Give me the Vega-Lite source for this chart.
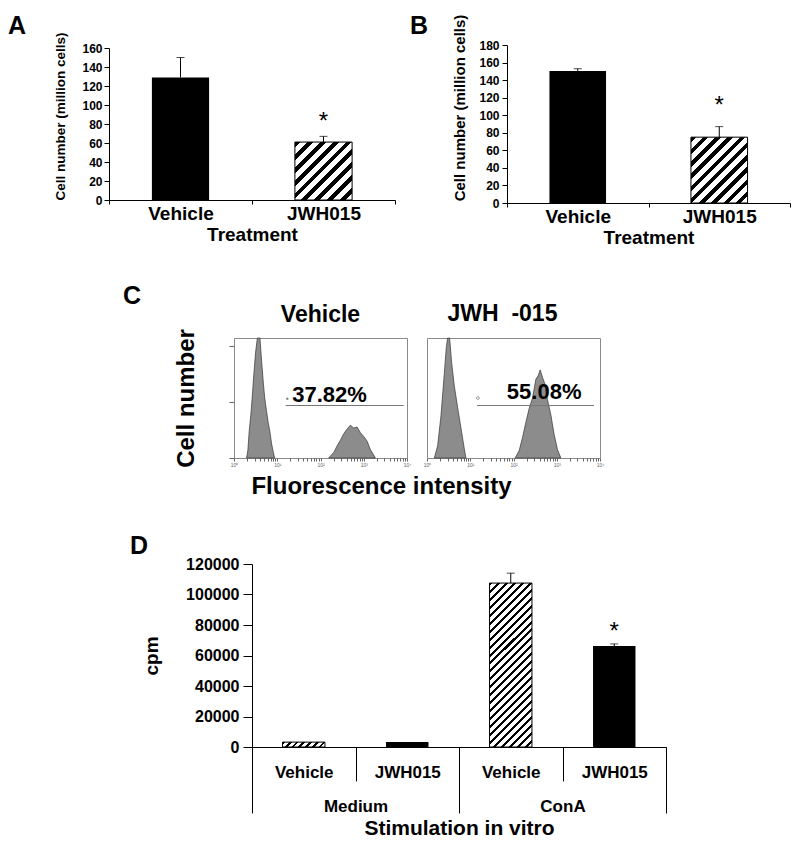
{
  "$schema": "https://vega.github.io/schema/vega-lite/v6.json",
  "padding": {"left": 8, "top": 13, "right": 0, "bottom": 0},
  "background": "white",
  "config": {
    "view": {"stroke": null},
    "font": "Liberation Sans",
    "axis": {"labelFont": "Liberation Sans", "titleFont": "Liberation Sans", "labelFontWeight": "bold", "titleFontWeight": "bold", "labelColor": "#000", "titleColor": "#000", "domainColor": "#000", "tickColor": "#000", "grid": false},
    "title": {"font": "Liberation Sans", "fontWeight": "bold", "color": "#000"},
    "text": {"font": "Liberation Sans"}
  },
  "spacing": 37,
  "vconcat": [
    {
      "hconcat": [
        {
          "width": 286, "height": 152,
          "title": {"text": "A", "anchor": "start", "frame": "group", "dx": -101, "offset": -7, "fontSize": 25},
          "data": {"values": [{"treatment": "Vehicle", "cells": 129, "upper": 150}, {"treatment": "JWH015", "cells": 61, "upper": 67}]},
          "encoding": {
            "x": {"field": "treatment", "type": "nominal", "sort": ["Vehicle", "JWH015"], "scale": {"paddingInner": 0, "paddingOuter": 0},
              "axis": {"title": "Treatment", "labelAngle": 0, "labelFontSize": 19, "titleFontSize": 19, "tickBand": "extent", "tickSize": 4, "labelPadding": 0, "titlePadding": 2}},
            "y": {"field": "cells", "type": "quantitative", "scale": {"domain": [0, 160], "nice": false},
              "axis": {"title": "Cell number (million cells)", "values": [0, 20, 40, 60, 80, 100, 120, 140, 160], "labelFontSize": 12, "titleFontSize": 13.5, "tickSize": 5, "labelPadding": 2, "titlePadding": 14, "titleY": 68}}
          },
          "layer": [
            {"transform": [{"filter": {"field": "treatment", "equal": "Vehicle"}}], "mark": {"type": "bar", "width": {"band": 0.4}, "color": "#000"}},
            {"transform": [{"filter": {"field": "treatment", "equal": "JWH015"}}], "mark": {"type": "bar", "width": {"band": 0.4}, "stroke": "#000", "strokeWidth": 1,
              "fill": {"gradient": "linear", "x1": 0, "y1": 0, "x2": 0.9934, "y2": 1.0065, "stops": [
                {"offset": 0, "color": "#000"}, {"offset": 0.05, "color": "#000"}, {"offset": 0.05, "color": "#fff"}, {"offset": 0.1111, "color": "#fff"},
                {"offset": 0.1111, "color": "#000"}, {"offset": 0.1611, "color": "#000"}, {"offset": 0.1611, "color": "#fff"}, {"offset": 0.2222, "color": "#fff"},
                {"offset": 0.2222, "color": "#000"}, {"offset": 0.2722, "color": "#000"}, {"offset": 0.2722, "color": "#fff"}, {"offset": 0.3333, "color": "#fff"},
                {"offset": 0.3333, "color": "#000"}, {"offset": 0.3833, "color": "#000"}, {"offset": 0.3833, "color": "#fff"}, {"offset": 0.4444, "color": "#fff"},
                {"offset": 0.4444, "color": "#000"}, {"offset": 0.4944, "color": "#000"}, {"offset": 0.4944, "color": "#fff"}, {"offset": 0.5556, "color": "#fff"},
                {"offset": 0.5556, "color": "#000"}, {"offset": 0.6056, "color": "#000"}, {"offset": 0.6056, "color": "#fff"}, {"offset": 0.6667, "color": "#fff"},
                {"offset": 0.6667, "color": "#000"}, {"offset": 0.7167, "color": "#000"}, {"offset": 0.7167, "color": "#fff"}, {"offset": 0.7778, "color": "#fff"},
                {"offset": 0.7778, "color": "#000"}, {"offset": 0.8278, "color": "#000"}, {"offset": 0.8278, "color": "#fff"}, {"offset": 0.8889, "color": "#fff"},
                {"offset": 0.8889, "color": "#000"}, {"offset": 0.9389, "color": "#000"}, {"offset": 0.9389, "color": "#fff"}, {"offset": 1, "color": "#fff"}]}}},
            {"mark": {"type": "rule", "color": "#000", "strokeWidth": 1}, "encoding": {"y2": {"field": "upper"}}},
            {"mark": {"type": "tick", "orient": "horizontal", "size": 8, "thickness": 1, "color": "#000"}, "encoding": {"y": {"field": "upper", "type": "quantitative"}}},
            {"transform": [{"filter": {"field": "treatment", "equal": "JWH015"}}], "mark": {"type": "text", "text": "*", "fontSize": 24, "baseline": "alphabetic", "dy": -7}, "encoding": {"y": {"field": "upper", "type": "quantitative"}}}
          ]
        },
        {
          "width": 283, "height": 158,
          "title": {"text": "B", "anchor": "start", "frame": "group", "dx": -97, "offset": -25, "fontSize": 25},
          "data": {"values": [{"treatment": "Vehicle", "cells": 150.5, "upper": 153}, {"treatment": "JWH015", "cells": 75, "upper": 87}]},
          "encoding": {
            "x": {"field": "treatment", "type": "nominal", "sort": ["Vehicle", "JWH015"], "scale": {"paddingInner": 0, "paddingOuter": 0},
              "axis": {"title": "Treatment", "labelAngle": 0, "labelFontSize": 19, "titleFontSize": 19, "tickBand": "extent", "tickSize": 4, "labelPadding": 0, "titlePadding": 2}},
            "y": {"field": "cells", "type": "quantitative", "scale": {"domain": [0, 180], "nice": false},
              "axis": {"title": "Cell number (million cells)", "values": [0, 20, 40, 60, 80, 100, 120, 140, 160, 180], "labelFontSize": 12, "titleFontSize": 15, "tickSize": 5, "labelPadding": 3, "titlePadding": 11, "titleY": 62.5}}
          },
          "layer": [
            {"transform": [{"filter": {"field": "treatment", "equal": "Vehicle"}}], "mark": {"type": "bar", "width": {"band": 0.4}, "color": "#000"}},
            {"transform": [{"filter": {"field": "treatment", "equal": "JWH015"}}], "mark": {"type": "bar", "width": {"band": 0.4}, "stroke": "#000", "strokeWidth": 1,
              "fill": {"gradient": "linear", "x1": 0, "y1": 0, "x2": 0.9194, "y2": 1.0693, "stops": [
                {"offset": 0, "color": "#000"}, {"offset": 0.045, "color": "#000"}, {"offset": 0.045, "color": "#fff"}, {"offset": 0.1, "color": "#fff"},
                {"offset": 0.1, "color": "#000"}, {"offset": 0.145, "color": "#000"}, {"offset": 0.145, "color": "#fff"}, {"offset": 0.2, "color": "#fff"},
                {"offset": 0.2, "color": "#000"}, {"offset": 0.245, "color": "#000"}, {"offset": 0.245, "color": "#fff"}, {"offset": 0.3, "color": "#fff"},
                {"offset": 0.3, "color": "#000"}, {"offset": 0.345, "color": "#000"}, {"offset": 0.345, "color": "#fff"}, {"offset": 0.4, "color": "#fff"},
                {"offset": 0.4, "color": "#000"}, {"offset": 0.445, "color": "#000"}, {"offset": 0.445, "color": "#fff"}, {"offset": 0.5, "color": "#fff"},
                {"offset": 0.5, "color": "#000"}, {"offset": 0.545, "color": "#000"}, {"offset": 0.545, "color": "#fff"}, {"offset": 0.6, "color": "#fff"},
                {"offset": 0.6, "color": "#000"}, {"offset": 0.645, "color": "#000"}, {"offset": 0.645, "color": "#fff"}, {"offset": 0.7, "color": "#fff"},
                {"offset": 0.7, "color": "#000"}, {"offset": 0.745, "color": "#000"}, {"offset": 0.745, "color": "#fff"}, {"offset": 0.8, "color": "#fff"},
                {"offset": 0.8, "color": "#000"}, {"offset": 0.845, "color": "#000"}, {"offset": 0.845, "color": "#fff"}, {"offset": 0.9, "color": "#fff"},
                {"offset": 0.9, "color": "#000"}, {"offset": 0.945, "color": "#000"}, {"offset": 0.945, "color": "#fff"}, {"offset": 1, "color": "#fff"}]}}},
            {"mark": {"type": "rule", "color": "#000", "strokeWidth": 1}, "encoding": {"y2": {"field": "upper"}}},
            {"mark": {"type": "tick", "orient": "horizontal", "size": 8, "thickness": 1, "color": "#000"}, "encoding": {"y": {"field": "upper", "type": "quantitative"}}},
            {"transform": [{"filter": {"field": "treatment", "equal": "JWH015"}}], "mark": {"type": "text", "text": "*", "fontSize": 24, "baseline": "alphabetic", "dy": -14}, "encoding": {"y": {"field": "upper", "type": "quantitative"}}}
          ]
        }
      ],
      "spacing": 112, "bounds": "flush", "center": true
    },
    {
      "spacing": 34,
      "vconcat": [
        {
          "title": {"text": "C", "anchor": "start", "frame": "bounds", "dx": 14, "offset": -7, "fontSize": 25},
          "spacing": 20, "bounds": "flush",
          "hconcat": [
            {"width": 105, "height": 10, "data": {"values": [{}]}, "mark": "text", "encoding": {"text": {"value": ""}}},
            {
              "width": 173, "height": 120,
              "view": {"stroke": "#8a8a8a", "strokeWidth": 1},
              "title": {"text": "Vehicle", "fontSize": 23, "offset": 1.5},
              "data": {"values": [
                {"peak": "a", "fl": 1.95, "count": 0}, {"peak": "a", "fl": 2.09, "count": 8}, {"peak": "a", "fl": 2.24, "count": 28}, {"peak": "a", "fl": 2.45, "count": 46},
                {"peak": "a", "fl": 2.63, "count": 64}, {"peak": "a", "fl": 2.88, "count": 90}, {"peak": "a", "fl": 3.16, "count": 113}, {"peak": "a", "fl": 3.47, "count": 128},
                {"peak": "a", "fl": 3.98, "count": 128}, {"peak": "a", "fl": 4.37, "count": 102}, {"peak": "a", "fl": 4.79, "count": 79}, {"peak": "a", "fl": 5.13, "count": 64},
                {"peak": "a", "fl": 5.62, "count": 51}, {"peak": "a", "fl": 6.17, "count": 38}, {"peak": "a", "fl": 6.76, "count": 28}, {"peak": "a", "fl": 7.41, "count": 15},
                {"peak": "a", "fl": 8.13, "count": 6}, {"peak": "a", "fl": 8.71, "count": 0},
                {"peak": "b", "fl": 154.9, "count": 0}, {"peak": "b", "fl": 202.8, "count": 6}, {"peak": "b", "fl": 242.7, "count": 13}, {"peak": "b", "fl": 289.1, "count": 19},
                {"peak": "b", "fl": 345.1, "count": 26}, {"peak": "b", "fl": 413, "count": 31}, {"peak": "b", "fl": 492, "count": 35}, {"peak": "b", "fl": 586.1, "count": 32},
                {"peak": "b", "fl": 703.1, "count": 33}, {"peak": "b", "fl": 837.5, "count": 27}, {"peak": "b", "fl": 997.7, "count": 23}, {"peak": "b", "fl": 1194, "count": 18},
                {"peak": "b", "fl": 1422, "count": 9}, {"peak": "b", "fl": 1858, "count": 0}
              ]},
              "layer": [
                {"mark": {"type": "area", "fill": "#8c8c8c", "stroke": "#333", "strokeWidth": 0.7, "interpolate": "linear"},
                  "encoding": {
                    "x": {"field": "fl", "type": "quantitative", "scale": {"type": "log", "domain": [1, 10000]},
                      "axis": {"values": [1, 2, 3, 4, 5, 6, 7, 8, 9, 10, 20, 30, 40, 50, 60, 70, 80, 90, 100, 200, 300, 400, 500, 600, 700, 800, 900, 1000, 2000, 3000, 4000, 5000, 6000, 7000, 8000, 9000, 10000],
                        "tickSize": 3, "tickColor": "#666", "domain": false, "labelFontSize": 5, "labelFontWeight": "normal", "labelColor": "#666", "labelPadding": 1, "labelOverlap": false, "labelFlush": false,
                        "labelExpr": "datum.value == 1 ? '10⁰' : datum.value == 10 ? '10¹' : datum.value == 100 ? '10²' : datum.value == 1000 ? '10³' : datum.value == 10000 ? '10⁴' : ''",
                        "title": "Fluorescence intensity", "titleFontSize": 24, "titleX": 147, "titlePadding": 7}},
                    "y": {"field": "count", "type": "quantitative", "stack": null, "scale": {"domain": [0, 128], "nice": false},
                      "axis": {"values": [0, 30, 60, 90, 120], "labels": false, "domain": false, "tickSize": 5, "tickColor": "#666", "title": "Cell number", "titleFontSize": 24, "titlePadding": 30}},
                    "detail": {"field": "peak", "type": "nominal"}
                  }},
                {"data": {"values": [{}]}, "mark": {"type": "rule", "color": "#777", "strokeWidth": 1},
                  "encoding": {"x": {"datum": 15.6, "type": "quantitative"}, "x2": {"datum": 8360}, "y": {"datum": 56, "type": "quantitative"}}},
                {"data": {"values": [{}]}, "mark": {"type": "text", "text": "37.82%", "fontSize": 22, "fontWeight": "bold", "align": "left", "baseline": "alphabetic"},
                  "encoding": {"x": {"datum": 22.2, "type": "quantitative"}, "y": {"datum": 59.7, "type": "quantitative"}}},
                {"data": {"values": [{}]}, "mark": {"type": "point", "filled": true, "size": 6, "color": "#555"},
                  "encoding": {"x": {"datum": 17.1, "type": "quantitative"}, "y": {"datum": 63.3, "type": "quantitative"}}}
              ]
            },
            {
              "width": 173, "height": 120,
              "view": {"stroke": "#8a8a8a", "strokeWidth": 1},
              "title": {"text": "JWH\u00a0\u00a0-015", "fontSize": 23, "offset": 11, "dx": -11},
              "data": {"values": [
                {"peak": "a", "fl": 1.476, "count": 0}, {"peak": "a", "fl": 1.762, "count": 13}, {"peak": "a", "fl": 2.104, "count": 45}, {"peak": "a", "fl": 2.512, "count": 90},
                {"peak": "a", "fl": 2.793, "count": 118}, {"peak": "a", "fl": 2.999, "count": 128}, {"peak": "a", "fl": 3.334, "count": 128}, {"peak": "a", "fl": 3.707, "count": 102},
                {"peak": "a", "fl": 4.276, "count": 77}, {"peak": "a", "fl": 5.105, "count": 54}, {"peak": "a", "fl": 6.095, "count": 32}, {"peak": "a", "fl": 7.278, "count": 10},
                {"peak": "a", "fl": 7.943, "count": 0},
                {"peak": "b", "fl": 109.4, "count": 0}, {"peak": "b", "fl": 135.5, "count": 8}, {"peak": "b", "fl": 161.8, "count": 22}, {"peak": "b", "fl": 193.2, "count": 38},
                {"peak": "b", "fl": 230.7, "count": 53}, {"peak": "b", "fl": 275.4, "count": 64}, {"peak": "b", "fl": 328.9, "count": 84}, {"peak": "b", "fl": 372.4, "count": 88},
                {"peak": "b", "fl": 414, "count": 94}, {"peak": "b", "fl": 468.8, "count": 86}, {"peak": "b", "fl": 530.9, "count": 79}, {"peak": "b", "fl": 612.4, "count": 62},
                {"peak": "b", "fl": 731.1, "count": 46}, {"peak": "b", "fl": 871, "count": 25}, {"peak": "b", "fl": 1040, "count": 9}, {"peak": "b", "fl": 1245, "count": 0}
              ]},
              "layer": [
                {"mark": {"type": "area", "fill": "#8c8c8c", "stroke": "#333", "strokeWidth": 0.7, "interpolate": "linear"},
                  "encoding": {
                    "x": {"field": "fl", "type": "quantitative", "scale": {"type": "log", "domain": [1, 10000]},
                      "axis": {"values": [1, 2, 3, 4, 5, 6, 7, 8, 9, 10, 20, 30, 40, 50, 60, 70, 80, 90, 100, 200, 300, 400, 500, 600, 700, 800, 900, 1000, 2000, 3000, 4000, 5000, 6000, 7000, 8000, 9000, 10000],
                        "tickSize": 3, "tickColor": "#666", "domain": false, "labelFontSize": 5, "labelFontWeight": "normal", "labelColor": "#666", "labelPadding": 1, "labelOverlap": false, "labelFlush": false,
                        "labelExpr": "datum.value == 1 ? '10⁰' : datum.value == 10 ? '10¹' : datum.value == 100 ? '10²' : datum.value == 1000 ? '10³' : datum.value == 10000 ? '10⁴' : ''",
                        "title": null}},
                    "y": {"field": "count", "type": "quantitative", "stack": null, "scale": {"domain": [0, 128], "nice": false}, "axis": null},
                    "detail": {"field": "peak", "type": "nominal"}
                  }},
                {"data": {"values": [{}]}, "mark": {"type": "rule", "color": "#777", "strokeWidth": 1},
                  "encoding": {"x": {"datum": 14.3, "type": "quantitative"}, "x2": {"datum": 7260}, "y": {"datum": 56, "type": "quantitative"}}},
                {"data": {"values": [{}]}, "mark": {"type": "text", "text": "55.08%", "fontSize": 22, "fontWeight": "bold", "align": "left", "baseline": "alphabetic"},
                  "encoding": {"x": {"datum": 70.2, "type": "quantitative"}, "y": {"datum": 63.3, "type": "quantitative"}}},
                {"data": {"values": [{}]}, "mark": {"type": "point", "filled": false, "size": 8, "color": "#555", "strokeWidth": 0.8},
                  "encoding": {"x": {"datum": 15.0, "type": "quantitative"}, "y": {"datum": 64, "type": "quantitative"}}}
              ]
            }
          ]
        },
        {
          "title": {"text": "D", "anchor": "start", "frame": "bounds", "dx": 21, "offset": -2.5, "fontSize": 25},
          "spacing": 20, "bounds": "flush",
          "hconcat": [
            {"width": 123, "height": 10, "data": {"values": [{}]}, "mark": "text", "encoding": {"text": {"value": ""}}},
            {
              "width": 414, "height": 183,
              "data": {"values": [
                {"stim": "Medium", "treatment": "Vehicle", "key": "Medium|Vehicle", "cpm": 3200, "upper": 3200},
                {"stim": "Medium", "treatment": "JWH015", "key": "Medium|JWH015", "cpm": 3300, "upper": 3300},
                {"stim": "ConA", "treatment": "Vehicle", "key": "ConA|Vehicle", "cpm": 107500, "upper": 114000},
                {"stim": "ConA", "treatment": "JWH015", "key": "ConA|JWH015", "cpm": 66200, "upper": 67600}
              ]},
              "encoding": {
                "y": {"field": "cpm", "type": "quantitative", "scale": {"domain": [0, 120000], "nice": false},
                  "axis": {"title": "cpm", "titleFontSize": 19, "values": [0, 20000, 40000, 60000, 80000, 100000, 120000], "format": "d", "labelFontSize": 16, "tickSize": 9, "labelPadding": 4, "titlePadding": 24}}
              },
              "layer": [
                {
                  "encoding": {
                    "x": {"field": "key", "type": "nominal", "sort": ["Medium|Vehicle", "Medium|JWH015", "ConA|Vehicle", "ConA|JWH015"], "scale": {"paddingInner": 0, "paddingOuter": 0},
                      "axis": {"title": null, "labelAngle": 0, "labelFontSize": 17, "labelExpr": "split(datum.value, '|')[1]", "tickBand": "extent", "tickSize": 34, "labelPadding": -17}}
                  },
                  "layer": [
                    {"transform": [{"filter": {"field": "treatment", "equal": "JWH015"}}], "mark": {"type": "bar", "width": {"band": 0.41}, "color": "#000"}},
                    {"transform": [{"filter": {"field": "key", "equal": "ConA|Vehicle"}}], "mark": {"type": "bar", "width": {"band": 0.41}, "stroke": "#000", "strokeWidth": 1,
                      "fill": {"gradient": "linear", "x1": 0, "y1": 0, "x2": 0.305, "y2": 1.18, "stops": [
                        {"offset": 0, "color": "#000"}, {"offset": 0.0146, "color": "#000"}, {"offset": 0.0146, "color": "#fff"}, {"offset": 0.0385, "color": "#fff"},
                        {"offset": 0.0385, "color": "#000"}, {"offset": 0.0531, "color": "#000"}, {"offset": 0.0531, "color": "#fff"}, {"offset": 0.0769, "color": "#fff"},
                        {"offset": 0.0769, "color": "#000"}, {"offset": 0.0915, "color": "#000"}, {"offset": 0.0915, "color": "#fff"}, {"offset": 0.1154, "color": "#fff"},
                        {"offset": 0.1154, "color": "#000"}, {"offset": 0.13, "color": "#000"}, {"offset": 0.13, "color": "#fff"}, {"offset": 0.1538, "color": "#fff"},
                        {"offset": 0.1538, "color": "#000"}, {"offset": 0.1684, "color": "#000"}, {"offset": 0.1684, "color": "#fff"}, {"offset": 0.1923, "color": "#fff"},
                        {"offset": 0.1923, "color": "#000"}, {"offset": 0.2069, "color": "#000"}, {"offset": 0.2069, "color": "#fff"}, {"offset": 0.2308, "color": "#fff"},
                        {"offset": 0.2308, "color": "#000"}, {"offset": 0.2454, "color": "#000"}, {"offset": 0.2454, "color": "#fff"}, {"offset": 0.2692, "color": "#fff"},
                        {"offset": 0.2692, "color": "#000"}, {"offset": 0.2838, "color": "#000"}, {"offset": 0.2838, "color": "#fff"}, {"offset": 0.3077, "color": "#fff"},
                        {"offset": 0.3077, "color": "#000"}, {"offset": 0.3223, "color": "#000"}, {"offset": 0.3223, "color": "#fff"}, {"offset": 0.3462, "color": "#fff"},
                        {"offset": 0.3462, "color": "#000"}, {"offset": 0.3608, "color": "#000"}, {"offset": 0.3608, "color": "#fff"}, {"offset": 0.3846, "color": "#fff"},
                        {"offset": 0.3846, "color": "#000"}, {"offset": 0.3992, "color": "#000"}, {"offset": 0.3992, "color": "#fff"}, {"offset": 0.4231, "color": "#fff"},
                        {"offset": 0.4231, "color": "#000"}, {"offset": 0.4377, "color": "#000"}, {"offset": 0.4377, "color": "#fff"}, {"offset": 0.4615, "color": "#fff"},
                        {"offset": 0.4615, "color": "#000"}, {"offset": 0.4761, "color": "#000"}, {"offset": 0.4761, "color": "#fff"}, {"offset": 0.5, "color": "#fff"},
                        {"offset": 0.5, "color": "#000"}, {"offset": 0.5146, "color": "#000"}, {"offset": 0.5146, "color": "#fff"}, {"offset": 0.5385, "color": "#fff"},
                        {"offset": 0.5385, "color": "#000"}, {"offset": 0.5531, "color": "#000"}, {"offset": 0.5531, "color": "#fff"}, {"offset": 0.5769, "color": "#fff"},
                        {"offset": 0.5769, "color": "#000"}, {"offset": 0.5915, "color": "#000"}, {"offset": 0.5915, "color": "#fff"}, {"offset": 0.6154, "color": "#fff"},
                        {"offset": 0.6154, "color": "#000"}, {"offset": 0.63, "color": "#000"}, {"offset": 0.63, "color": "#fff"}, {"offset": 0.6538, "color": "#fff"},
                        {"offset": 0.6538, "color": "#000"}, {"offset": 0.6684, "color": "#000"}, {"offset": 0.6684, "color": "#fff"}, {"offset": 0.6923, "color": "#fff"},
                        {"offset": 0.6923, "color": "#000"}, {"offset": 0.7069, "color": "#000"}, {"offset": 0.7069, "color": "#fff"}, {"offset": 0.7308, "color": "#fff"},
                        {"offset": 0.7308, "color": "#000"}, {"offset": 0.7454, "color": "#000"}, {"offset": 0.7454, "color": "#fff"}, {"offset": 0.7692, "color": "#fff"},
                        {"offset": 0.7692, "color": "#000"}, {"offset": 0.7838, "color": "#000"}, {"offset": 0.7838, "color": "#fff"}, {"offset": 0.8077, "color": "#fff"},
                        {"offset": 0.8077, "color": "#000"}, {"offset": 0.8223, "color": "#000"}, {"offset": 0.8223, "color": "#fff"}, {"offset": 0.8462, "color": "#fff"},
                        {"offset": 0.8462, "color": "#000"}, {"offset": 0.8608, "color": "#000"}, {"offset": 0.8608, "color": "#fff"}, {"offset": 0.8846, "color": "#fff"},
                        {"offset": 0.8846, "color": "#000"}, {"offset": 0.8992, "color": "#000"}, {"offset": 0.8992, "color": "#fff"}, {"offset": 0.9231, "color": "#fff"},
                        {"offset": 0.9231, "color": "#000"}, {"offset": 0.9377, "color": "#000"}, {"offset": 0.9377, "color": "#fff"}, {"offset": 0.9615, "color": "#fff"},
                        {"offset": 0.9615, "color": "#000"}, {"offset": 0.9761, "color": "#000"}, {"offset": 0.9761, "color": "#fff"}, {"offset": 1, "color": "#fff"}]}}},
                    {"transform": [{"filter": {"field": "key", "equal": "Medium|Vehicle"}}], "mark": {"type": "bar", "width": {"band": 0.41}, "stroke": "#000", "strokeWidth": 1,
                      "fill": {"gradient": "linear", "x1": 0, "y1": 0, "x2": 1.1005, "y2": 0.1267, "stops": [
                        {"offset": 0, "color": "#000"}, {"offset": 0.0571, "color": "#000"}, {"offset": 0.0571, "color": "#fff"}, {"offset": 0.1429, "color": "#fff"},
                        {"offset": 0.1429, "color": "#000"}, {"offset": 0.2, "color": "#000"}, {"offset": 0.2, "color": "#fff"}, {"offset": 0.2857, "color": "#fff"},
                        {"offset": 0.2857, "color": "#000"}, {"offset": 0.3429, "color": "#000"}, {"offset": 0.3429, "color": "#fff"}, {"offset": 0.4286, "color": "#fff"},
                        {"offset": 0.4286, "color": "#000"}, {"offset": 0.4857, "color": "#000"}, {"offset": 0.4857, "color": "#fff"}, {"offset": 0.5714, "color": "#fff"},
                        {"offset": 0.5714, "color": "#000"}, {"offset": 0.6286, "color": "#000"}, {"offset": 0.6286, "color": "#fff"}, {"offset": 0.7143, "color": "#fff"},
                        {"offset": 0.7143, "color": "#000"}, {"offset": 0.7714, "color": "#000"}, {"offset": 0.7714, "color": "#fff"}, {"offset": 0.8571, "color": "#fff"},
                        {"offset": 0.8571, "color": "#000"}, {"offset": 0.9143, "color": "#000"}, {"offset": 0.9143, "color": "#fff"}, {"offset": 1, "color": "#fff"}]}}},
                    {"transform": [{"filter": {"field": "stim", "equal": "ConA"}}], "mark": {"type": "rule", "color": "#000", "strokeWidth": 1}, "encoding": {"y2": {"field": "upper"}}},
                    {"transform": [{"filter": {"field": "stim", "equal": "ConA"}}], "mark": {"type": "tick", "orient": "horizontal", "size": 8, "thickness": 1, "color": "#000"}, "encoding": {"y": {"field": "upper", "type": "quantitative"}}},
                    {"transform": [{"filter": {"field": "key", "equal": "ConA|JWH015"}}], "mark": {"type": "text", "text": "*", "fontSize": 24, "baseline": "alphabetic", "dy": -5}, "encoding": {"y": {"field": "upper", "type": "quantitative"}}}
                  ]
                },
                {
                  "mark": {"type": "point", "opacity": 0},
                  "encoding": {
                    "x": {"field": "stim", "type": "nominal", "sort": ["Medium", "ConA"], "scale": {"paddingInner": 0, "paddingOuter": 0},
                      "axis": {"orient": "bottom", "title": "Stimulation in vitro", "titleFontSize": 21, "labelAngle": 0, "labelFontSize": 17, "tickBand": "extent", "tickSize": 66, "labelPadding": -15, "domain": false, "titlePadding": 3}}
                  }
                }
              ],
              "resolve": {"scale": {"x": "independent"}, "axis": {"x": "independent"}}
            }
          ]
        }
      ]
    }
  ]
}
